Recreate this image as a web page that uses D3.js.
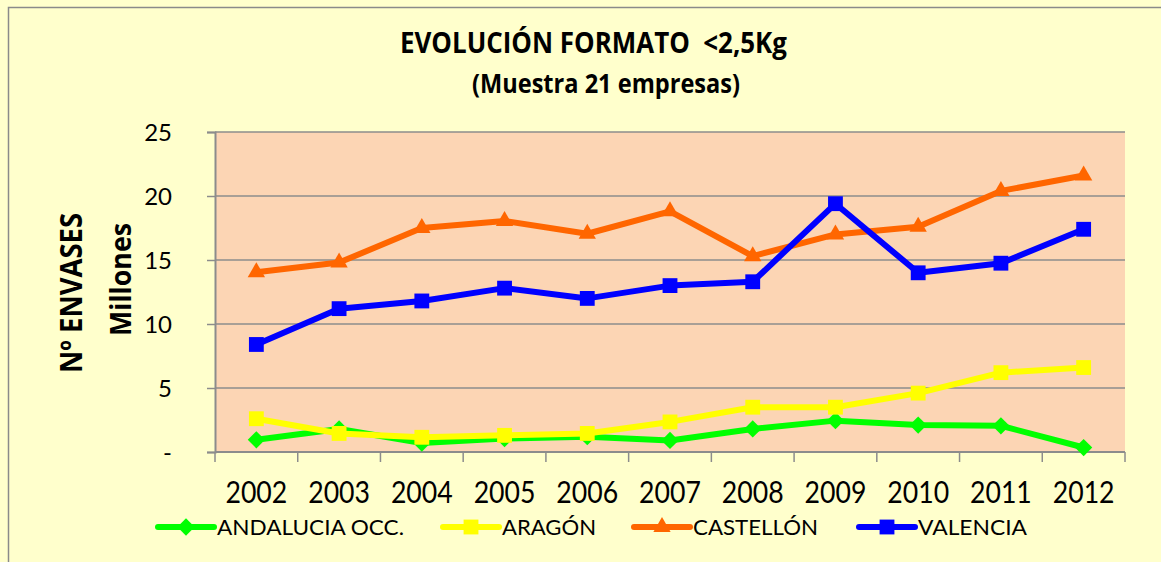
<!DOCTYPE html>
<html>
<head>
<meta charset="utf-8">
<script src="https://cdn.jsdelivr.net/npm/d3@7"></script>
<style>
  html, body { margin: 0; padding: 0; background: #FFFFCC; }
  svg { display: block; }
  text { font-family: Lato, "Open Sans", "Liberation Sans", sans-serif; fill: #000; }
  .bold { font-family: "Open Sans", Lato, sans-serif; font-weight: 700; }
</style>
</head>
<body>
<svg id="chart" width="1161" height="562"></svg>
<script>
const years = ["2002","2003","2004","2005","2006","2007","2008","2009","2010","2011","2012"];
const andalucia = [0.95, 1.8, 0.7, 1.05, 1.2, 0.9, 1.8, 2.45, 2.1, 2.05, 0.35];
const aragon    = [2.6, 1.45, 1.15, 1.3, 1.45, 2.35, 3.5, 3.5, 4.6, 6.2, 6.6];
const castellon = [14.05, 14.8, 17.5, 18.05, 17.05, 18.8, 15.3, 17.0, 17.6, 20.4, 21.6];
const valencia  = [8.4, 11.2, 11.8, 12.8, 12.0, 13.0, 13.3, 19.4, 14.0, 14.75, 17.4];
const seriesNames = ["ANDALUCIA OCC.", "ARAGÓN", "CASTELLÓN", "VALENCIA"];
const yTicks = [0, 5, 10, 15, 20, 25];
const titleLines = ["EVOLUCIÓN FORMATO  <2,5Kg", "(Muestra 21 empresas)"];
const yTitle = "Nº ENVASES";
const yUnit = "Millones";

const series = [
  {name: seriesNames[0], values: andalucia, color: "#00FF00", symbol: d3.symbolDiamond2, size: 190, width: 6},
  {name: seriesNames[1], values: aragon,    color: "#FFFF00", symbol: d3.symbolSquare,  size: 220, width: 6},
  {name: seriesNames[2], values: castellon, color: "#FF6600", symbol: d3.symbolTriangle,size: 130, width: 6},
  {name: seriesNames[3], values: valencia,  color: "#0000FF", symbol: d3.symbolSquare,  size: 220, width: 6}
];

const svg = d3.select("#chart");
const L = 215, R = 1125, T = 132, B = 452;

// outer chart border
svg.append("rect").attr("x", 8.5).attr("y", 7.5).attr("width", 1200).attr("height", 600)
  .attr("fill", "#FFFFCC").attr("stroke", "#8a8a8a").attr("stroke-width", 1.5);

const x = d3.scaleBand().domain(years).range([L, R]);
const y = d3.scaleLinear().domain([0, 25]).range([B, T]);

// plot area
svg.append("rect").attr("x", L).attr("y", T).attr("width", R - L).attr("height", B - T).attr("fill", "#FCD5B4");

// gridlines
svg.append("g").selectAll("line").data(yTicks.filter(d => d > 0)).join("line")
  .attr("x1", L).attr("x2", R).attr("y1", d => y(d)).attr("y2", d => y(d))
  .attr("stroke", "#8c8c8c").attr("stroke-width", 1.5);

// y axis
const yAxis = svg.append("g").attr("transform", `translate(${L},0)`)
  .call(d3.axisLeft(y).tickValues(yTicks).tickFormat(d => d === 0 ? "-" : d).tickSize(8).tickPadding(35));
yAxis.select(".domain").attr("stroke", "#8c8c8c").attr("stroke-width", 2);
yAxis.selectAll(".tick line").attr("stroke", "#8c8c8c").attr("stroke-width", 1.5);
yAxis.selectAll(".tick text").attr("font-size", 24).attr("font-family", "Lato, sans-serif")
  .attr("dy", "0.35em").attr("fill", "#000");

// x axis
const xg = svg.append("g");
xg.append("line").attr("x1", L).attr("x2", R).attr("y1", B).attr("y2", B)
  .attr("stroke", "#8c8c8c").attr("stroke-width", 2);
const bounds = years.map(d => x(d)).concat([x(years[years.length - 1]) + x.bandwidth()]);
xg.selectAll("line.tk").data(bounds).join("line").attr("class", "tk")
  .attr("x1", d => d).attr("x2", d => d).attr("y1", B).attr("y2", B + 10)
  .attr("stroke", "#8c8c8c").attr("stroke-width", 1.5);
xg.selectAll("text").data(years).join("text")
  .attr("transform", d => `translate(${x(d) + x.bandwidth() / 2},503) scale(0.86,1)`)
  .attr("text-anchor", "middle").attr("font-size", 31).text(d => d);

// lines and markers
const line = d3.line().x((d, i) => x(years[i]) + x.bandwidth() / 2).y(d => y(d));
series.forEach(s => {
  const g = svg.append("g");
  g.append("path").datum(s.values).attr("d", line).attr("fill", "none")
    .attr("stroke", s.color).attr("stroke-width", s.width).attr("stroke-linejoin", "round");
  g.selectAll("path.m").data(s.values).join("path").attr("class", "m")
    .attr("transform", (d, i) => `translate(${x(years[i]) + x.bandwidth() / 2},${y(d)})`)
    .attr("d", d3.symbol().type(s.symbol).size(s.size)).attr("fill", s.color);
});

// titles
svg.append("text").attr("class", "bold").attr("x", 400).attr("y", 53).attr("font-size", 28)
  .attr("textLength", 387).attr("lengthAdjust", "spacingAndGlyphs").style("white-space", "pre").text(titleLines[0]);
svg.append("text").attr("class", "bold").attr("x", 472).attr("y", 93).attr("font-size", 27)
  .attr("textLength", 268).attr("lengthAdjust", "spacingAndGlyphs").text(titleLines[1]);

// y axis titles
svg.append("text").attr("class", "bold").attr("transform", "translate(82,373) rotate(-90)").attr("font-size", 30)
  .attr("textLength", 160).attr("lengthAdjust", "spacingAndGlyphs").text(yTitle);
svg.append("text").attr("class", "bold").attr("transform", "translate(131,336) rotate(-90)").attr("font-size", 28)
  .attr("textLength", 113).attr("lengthAdjust", "spacingAndGlyphs").text(yUnit);

// legend
const legendX = [158, 443, 634, 859];
const legendW = [187, 94, 125, 109];
const ly = 527;
series.forEach((s, i) => {
  const g = svg.append("g");
  g.append("line").attr("x1", legendX[i]).attr("x2", legendX[i] + 56).attr("y1", ly).attr("y2", ly)
    .attr("stroke", s.color).attr("stroke-width", 6).attr("stroke-linecap", "round");
  g.append("path").attr("transform", `translate(${legendX[i] + 28},${ly})`)
    .attr("d", d3.symbol().type(s.symbol).size(s.size)).attr("fill", s.color);
  g.append("text").attr("x", legendX[i] + 59).attr("y", ly + 8).attr("font-size", 21)
    .attr("textLength", legendW[i]).attr("lengthAdjust", "spacingAndGlyphs").text(s.name);
});
</script>
</body>
</html>
